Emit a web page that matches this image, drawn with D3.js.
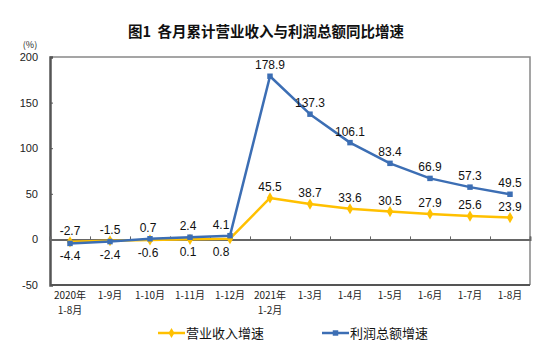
<!DOCTYPE html>
<html><head><meta charset="utf-8">
<script src="https://cdn.jsdelivr.net/npm/d3@7"></script>
<style>body{margin:0;background:#fff}svg{display:block}text{white-space:pre}</style>
</head><body><svg id="c" width="554" height="356"></svg>
<script>
const categories = ["2020年\n1-8月","1-9月","1-10月","1-11月","1-12月","2021年\n1-2月","1-3月","1-4月","1-5月","1-6月","1-7月","1-8月"];
const revenue = [-2.7,-1.5,-0.6,0.1,0.8,45.5,38.7,33.6,30.5,27.9,25.6,23.9];
const profit  = [-4.4,-2.4,0.7,2.4,4.1,178.9,137.3,106.1,83.4,66.9,57.3,49.5];
const yTicks = [-50,0,50,100,150,200];
const title = "图1  各月累计营业收入与利润总额同比增速";
const seriesNames = ["营业收入增速","利润总额增速"];
// label placement: true = above point
const revAbove = [true,true,false,false,false,true,true,true,true,true,true,true];
const profAbove = [false,false,true,true,true,true,true,true,true,true,true,true];

const svg = d3.select("#c");
const L=50,R=530,T=57,B=285;
const x = d3.scaleBand().domain(d3.range(categories.length)).range([L,R]);
const y = d3.scaleLinear().domain([-50,200]).range([B,T]);
const cx = i => x(i)+x.bandwidth()/2;
const YEL="#FFC000", BLU="#3C6EB4";
const tickFont = "'Liberation Sans', Arial, sans-serif";
const cjk = "'Noto Sans CJK SC', sans-serif";

svg.append("text").attr("x",266).attr("y",37).attr("text-anchor","middle")
  .attr("font-family",cjk).attr("font-size",14.5).attr("font-weight","bold").attr("fill","#111").text(title);

// frame
svg.append("path").attr("d",`M${L},${T}H${R}V${B}`).attr("fill","none").attr("stroke","#888").attr("stroke-width",1.5);
svg.append("line").attr("x1",L).attr("x2",R).attr("y1",B).attr("y2",B).attr("stroke","#555").attr("stroke-width",2);

// y axis
const ya = svg.append("g").attr("transform",`translate(${L},0)`)
  .call(d3.axisRight(y).tickValues(yTicks).tickSize(3).tickFormat(""));
ya.select(".domain").attr("stroke","#555").attr("stroke-width",2.5);
ya.selectAll(".tick line").attr("stroke","#555");
svg.selectAll(".ylab").data(yTicks).join("text").attr("x",38).attr("y",d=>y(d)+4)
  .attr("text-anchor","end").attr("font-family",tickFont).attr("font-size",11).attr("fill","#222").text(d=>d);
svg.append("text").attr("x",30).attr("y",48).attr("text-anchor","middle")
  .attr("font-family",cjk).attr("font-size",9).attr("fill","#222").text("(%)");

// zero axis with ticks at boundaries
const xa = svg.append("g").attr("transform",`translate(0,${y(0)})`)
  .call(d3.axisTop(d3.scaleLinear().domain([0,12]).range([L,R])).tickValues(d3.range(1,13)).tickSize(3).tickFormat(""));
xa.select(".domain").attr("stroke","#666").attr("stroke-width",2);
xa.selectAll(".tick line").attr("stroke","#666");

// x labels
categories.forEach((c,i)=>{
  c.split("\n").forEach((s,j)=>{
    svg.append("text").attr("x",cx(i)).attr("y",299+j*15).attr("text-anchor","middle")
      .attr("font-family",cjk).attr("font-size",10).attr("fill","#222").text(s);
  });
});

const line = d3.line().x((d,i)=>cx(i)).y(d=>y(d));
function drawSeries(data,color,sym,above){
  svg.append("path").datum(data).attr("d",line).attr("fill","none").attr("stroke",color).attr("stroke-width",2.5).attr("stroke-linejoin","round");
  svg.selectAll(null).data(data).join("path")
    .attr("transform",(d,i)=>`translate(${cx(i)},${y(d)})`)
    .attr("d",d3.symbol().type(sym).size(sym===d3.symbolSquare?30:36)).attr("fill",color);
  svg.selectAll(null).data(data).join("text")
    .attr("x",(d,i)=>cx(i)-(i===4?9:(i===2||i===3)?2:0)).attr("y",(d,i)=>above[i]?y(d)-7:y(d)+17)
    .attr("text-anchor","middle").attr("font-family",tickFont).attr("font-size",12).attr("fill","#111")
    .text(d=>d.toFixed(1));
}
drawSeries(revenue,YEL,d3.symbolDiamond,revAbove);
drawSeries(profit,BLU,d3.symbolSquare,profAbove);

// legend
const leg=[{n:seriesNames[0],c:YEL,s:d3.symbolDiamond,x:158},{n:seriesNames[1],c:BLU,s:d3.symbolSquare,x:322}];
leg.forEach(l=>{
  svg.append("line").attr("x1",l.x).attr("x2",l.x+27).attr("y1",333).attr("y2",333).attr("stroke",l.c).attr("stroke-width",2.5);
  svg.append("path").attr("transform",`translate(${l.x+13.5},333)`).attr("d",d3.symbol().type(l.s).size(30)).attr("fill",l.c);
  svg.append("text").attr("x",l.x+28).attr("y",338).attr("font-family",cjk).attr("font-size",13).attr("fill","#111").text(l.n);
});
</script></body></html>
